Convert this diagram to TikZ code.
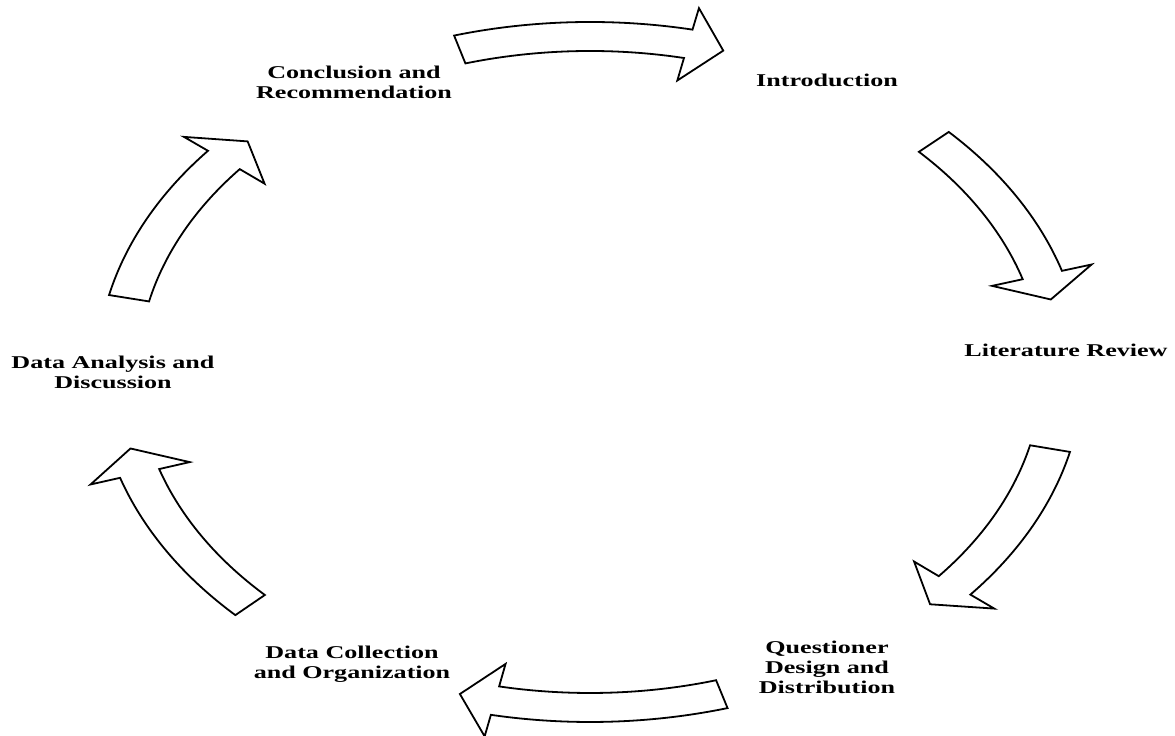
\documentclass[tikz,border=0pt]{standalone}
\usepackage{fontspec}
\newfontfamily\stagefont[FakeStretch=1.45]{Liberation Serif}
\usetikzlibrary{calc}

\tikzset{
  stage/.style={align=center, inner sep=0pt,
    font=\stagefont\bfseries\fontsize{18}{20}\selectfont},
  flowarrow/.style={draw=black, line width=1.8pt, fill=white, line join=miter},
}

% curved block arrow on the ring: tail angle, shaft end angle, tip angle
\newcommand{\ringarrow}[3]{%
  \draw[flowarrow] ($(ring)+({493*cos(#1)},{350*sin(#1)})$)
    arc[start angle=#1, end angle=#2, x radius=493pt, y radius=350pt]
    -- ($(ring)+({524*cos(#2)},{372*sin(#2)})$)
    -- ($(ring)+({472*cos(#3)},{335*sin(#3)})$)
    -- ($(ring)+({420*cos(#2)},{298*sin(#2)})$)
    -- ($(ring)+({452*cos(#2)},{321*sin(#2)})$)
    arc[start angle=#2, end angle=#1, x radius=452pt, y radius=321pt]
    -- cycle;}

\begin{document}
\begin{tikzpicture}[x=1pt, y=1pt]
  \useasboundingbox (0,0) rectangle (1175,736);
  \coordinate (ring) at (590,364);

  % the six stages
  \node[stage] (intro)    at (827,656) {Introduction};
  \node[stage] (litrev)   at (1066,386) {Literature Review};
  \node[stage] (quest)    at (827,69) {Questioner\\Design and\\Distribution};
  \node[stage] (collect)  at (352,72) {Data Collection\\and Organization};
  \node[stage] (analysis) at (113,364) {Data Analysis and\\Discussion};
  \node[stage] (concl)    at (354,654) {Conclusion and\\Recommendation};

  % arrows round the ring
  \foreach \ta/\tb/\tc in {106/78/73.6, 43.3/16.8/12.5, -13.2/-39.5/-43.9,
                           -73.8/-101.6/-106, -136/-162.4/-166.8, 167.3/140.8/136.5}
    \ringarrow{\ta}{\tb}{\tc};
\end{tikzpicture}
\end{document}
